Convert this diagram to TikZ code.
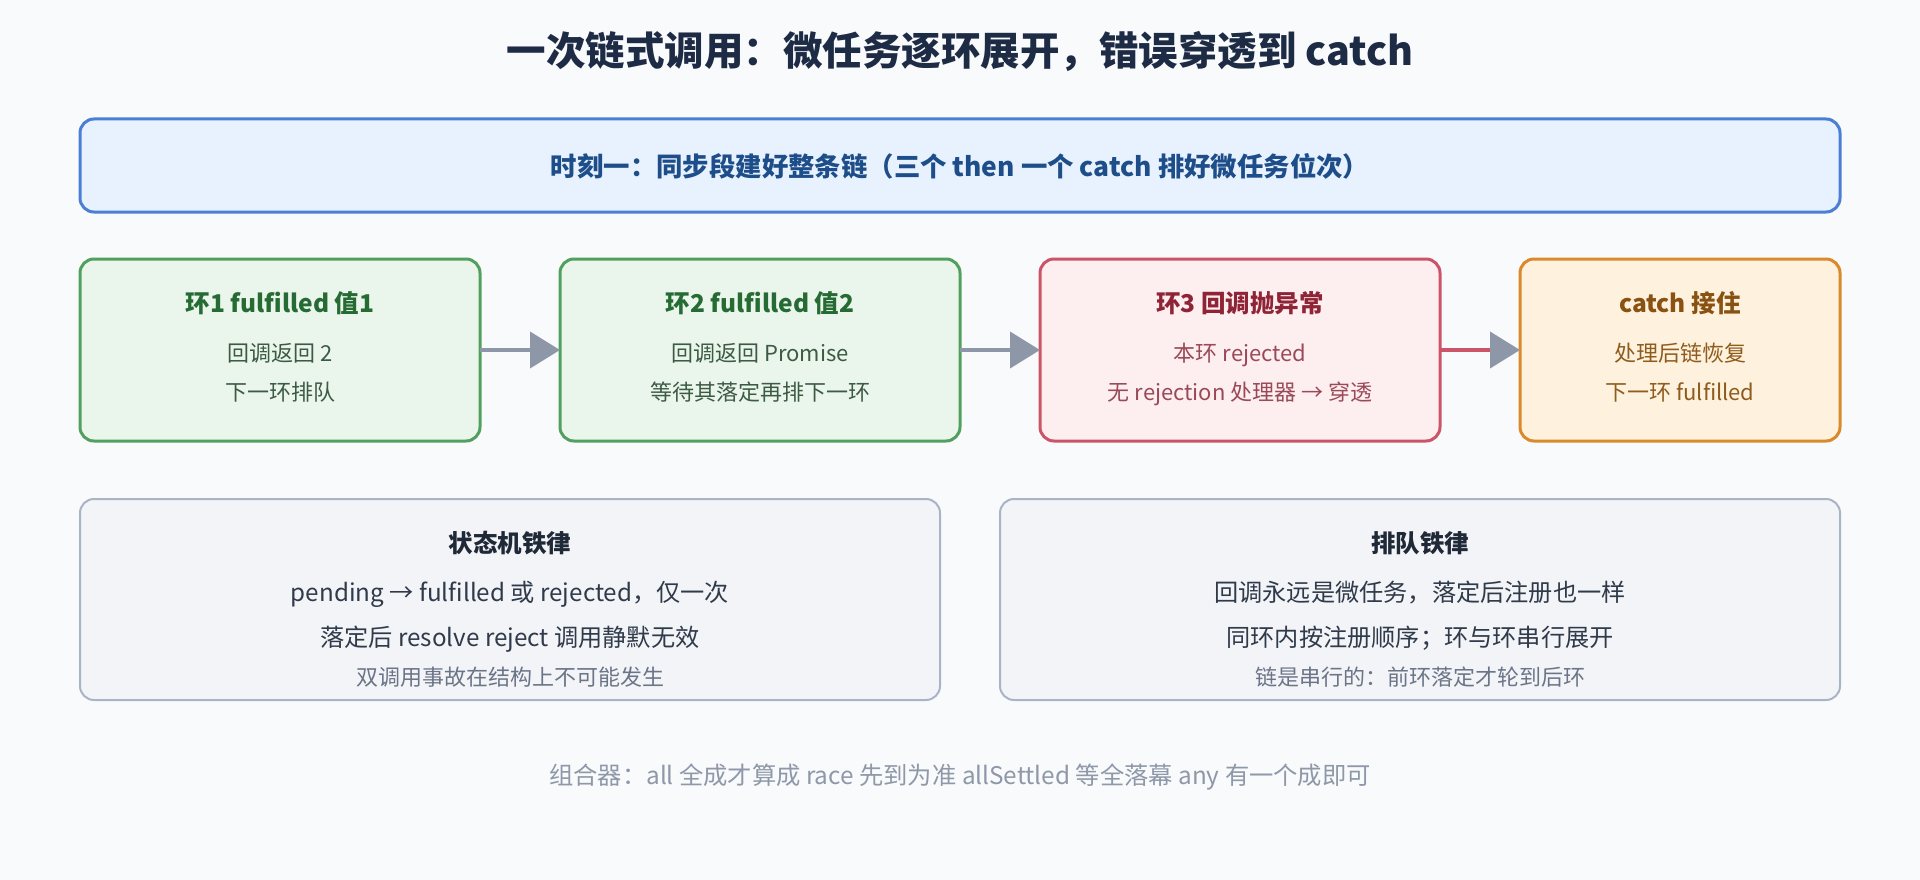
\documentclass[tikz,border=0pt]{standalone}
\usepackage{fontspec}
\setmainfont{Noto Sans CJK SC}
\usetikzlibrary{arrows.meta,calc}
\definecolor{bg}{HTML}{F8FAFC}
\definecolor{titlec}{HTML}{1E2B45}
\definecolor{blueB}{HTML}{4A7FD4}
\definecolor{blueF}{HTML}{E8F1FE}
\definecolor{blueT}{HTML}{1D4E89}
\definecolor{grnB}{HTML}{52A060}
\definecolor{grnF}{HTML}{EAF6EC}
\definecolor{grnT}{HTML}{256B33}
\definecolor{grnX}{HTML}{3D5A44}
\definecolor{redB}{HTML}{CC5468}
\definecolor{redF}{HTML}{FDEEF0}
\definecolor{redT}{HTML}{8F2436}
\definecolor{redX}{HTML}{9A4A57}
\definecolor{orgB}{HTML}{D98A2B}
\definecolor{orgF}{HTML}{FEF1DD}
\definecolor{orgT}{HTML}{8A5212}
\definecolor{orgX}{HTML}{8F5C1E}
\definecolor{gryB}{HTML}{A9B4C6}
\definecolor{gryF}{HTML}{F3F4F7}
\definecolor{gryT}{HTML}{1F2937}
\definecolor{gryX}{HTML}{2F3A4A}
\definecolor{gryS}{HTML}{6B7588}
\definecolor{footc}{HTML}{8E98A8}
\definecolor{arrowg}{HTML}{8D97A7}
\newcommand\fsz[1]{\fontsize{#1pt}{#1pt}\selectfont}
\begin{document}
\begin{tikzpicture}[x=1pt,y=-1pt,
  box/.style={rectangle, rounded corners=14pt, inner sep=0pt, outer sep=0pt, line width=3pt},
  bluebox/.style={box, draw=blueB, fill=blueF},
  greenbox/.style={box, draw=grnB, fill=grnF},
  redbox/.style={box, draw=redB, fill=redF},
  orangebox/.style={box, draw=orgB, fill=orgF},
  graybox/.style={box, draw=gryB, fill=gryF, line width=2pt},
  txt/.style={inner sep=0pt, outer sep=0pt, anchor=base},
  btitle/.style={txt, font=\fsz{24.5}\bfseries},
  bbody/.style={txt, font=\fsz{22}},
  gbody/.style={txt, font=\fsz{24.2}, text=gryX},
  gsmall/.style={txt, font=\fsz{22}, text=gryS},
  conn/.style={line width=4pt, draw=arrowg, -{Triangle[length=30pt,width=36pt,color=arrowg]}}
]
\useasboundingbox[fill=bg] (0,0) rectangle (1920,880);

\node[txt, font=\fsz{39.5}\bfseries, text=titlec] (title) at (960,65.5) {一次链式调用：微任务逐环展开，错误穿透到 catch};

\node[bluebox, minimum width=1760pt, minimum height=93pt] (sync) at (960,165.5) {};
\node[txt, font=\fsz{26.4}\bfseries, text=blueT] (synct) at (960,177) {时刻一：同步段建好整条链（三个 then 一个 catch 排好微任务位次）};

\node[greenbox, minimum width=400pt, minimum height=182pt] (b1) at (280,350) {};
\node[greenbox, minimum width=400pt, minimum height=182pt] (b2) at (760,350) {};
\node[redbox, minimum width=400pt, minimum height=182pt] (b3) at (1240,350) {};
\node[orangebox, minimum width=320pt, minimum height=182pt] (b4) at (1680,350) {};

\node[btitle, text=grnT] (b1t) at (280,312) {环1 fulfilled 值1};
\node[bbody, text=grnX] (b1a) at (280,361) {回调返回 2};
\node[bbody, text=grnX] (b1b) at (280,400) {下一环排队};

\node[btitle, text=grnT] (b2t) at (760,312) {环2 fulfilled 值2};
\node[bbody, text=grnX] (b2a) at (760,361) {回调返回 Promise};
\node[bbody, text=grnX] (b2b) at (760,400) {等待其落定再排下一环};

\node[btitle, text=redT] (b3t) at (1240,312) {环3 回调抛异常};
\node[bbody, text=redX] (b3a) at (1240,361) {本环 rejected};
\node[bbody, text=redX] (b3b) at (1240,400) {无 rejection 处理器 → 穿透};

\node[btitle, text=orgT] (b4t) at (1680,312) {catch 接住};
\node[bbody, text=orgX] (b4a) at (1680,361) {处理后链恢复};
\node[bbody, text=orgX] (b4b) at (1680,400) {下一环 fulfilled};

\draw[conn] (b1.east) -- (b2.west);
\draw[conn] (b2.east) -- (b3.west);
\draw[conn, draw=redB] (b3.east) -- (b4.west);

\node[graybox, minimum width=860pt, minimum height=201pt] (law1) at (510,599.5) {};
\node[graybox, minimum width=840pt, minimum height=201pt] (law2) at (1420,599.5) {};

\node[btitle, text=gryT] (l1t) at (510,552) {状态机铁律};
\node[gbody] (l1a) at (510,601) {pending → fulfilled 或 rejected，仅一次};
\node[gbody] (l1b) at (510,646) {落定后 resolve reject 调用静默无效};
\node[gsmall] (l1c) at (510,685) {双调用事故在结构上不可能发生};

\node[btitle, text=gryT] (l2t) at (1420,552) {排队铁律};
\node[gbody] (l2a) at (1420,601) {回调永远是微任务，落定后注册也一样};
\node[gbody] (l2b) at (1420,646) {同环内按注册顺序；环与环串行展开};
\node[gsmall] (l2c) at (1420,685) {链是串行的：前环落定才轮到后环};

\node[txt, font=\fsz{24.3}, text=footc] (foot) at (960,784) {组合器：all 全成才算成 race 先到为准 allSettled 等全落幕 any 有一个成即可};
\end{tikzpicture}
\end{document}
